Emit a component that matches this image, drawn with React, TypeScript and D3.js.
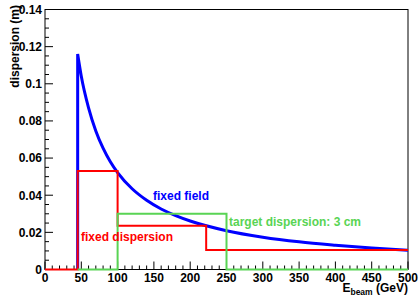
import React from "react";
import * as d3 from "d3";

const W = 418;
const H = 296;

// fixed field curve
const fieldE = [45, 50, 60, 70, 80, 90, 100, 120, 140, 160, 180, 200, 250, 300, 350, 400, 450, 500];
const fieldD = [0.116, 0.104, 0.087, 0.0746, 0.0653, 0.058, 0.0522, 0.0435, 0.0373, 0.0326, 0.029, 0.0261, 0.0209, 0.0174, 0.0149, 0.0131, 0.0116, 0.0104];

// fixed dispersion histogram
const redEdges = [0, 45, 100, 222, 500];
const redValues = [0, 0.053, 0.0236, 0.0105];

// target dispersion histogram
const greenEdges = [45, 100, 250, 500];
const greenValues = [0, 0.03, 0];

const xTicks = [0, 50, 100, 150, 200, 250, 300, 350, 400, 450, 500];
const yTicks = [0, 0.02, 0.04, 0.06, 0.08, 0.1, 0.12, 0.14];
const yTickLabels = ["0", "0.02", "0.04", "0.06", "0.08", "0.1", "0.12", "0.14"];

const FONT = "'Liberation Sans', Arial, Helvetica, sans-serif";

export default function App() {
  const x = d3.scaleLinear().domain([0, 500]).range([45, 408]);
  const y = d3.scaleLinear().domain([0, 0.14]).range([269.5, 9.5]);

  const stepPath = (edges: number[], vals: number[]) => {
    let p = `M${x(edges[0])},${y(vals[0])}`;
    for (let i = 0; i < vals.length; i++) {
      p += `L${x(edges[i])},${y(vals[i])}L${x(edges[i + 1])},${y(vals[i])}`;
    }
    return p;
  };

  const line = d3
    .line<number>()
    .x((_, i) => x(fieldE[i]))
    .y((d) => y(d))
    .curve(d3.curveMonotoneX);
  const bluePath = `M${x(fieldE[0])},${y(0)}L${x(fieldE[0])},${y(fieldD[0])}` + (line(fieldD) || "").replace(/^M/, "L");

  const xMinor = d3.range(0, 501, 10).filter((v) => v % 50 !== 0);
  const yMinor = d3.range(0, 0.1401, 0.005).filter((v) => Math.abs(v / 0.02 - Math.round(v / 0.02)) > 1e-6);

  return (
    <svg width={W} height={H} style={{ position: "absolute", left: 0, top: 0, display: "block", background: "#fff" }} fontFamily={FONT}>
      <rect x={0} y={0} width={W} height={H} fill="#fff" />
      {/* frame */}
      <rect x={x(0)} y={y(0.14)} width={x(500) - x(0)} height={y(0) - y(0.14)} fill="none" stroke="#000" strokeWidth={1} />
      {/* x ticks */}
      {xTicks.map((t) => (
        <line key={"xt" + t} x1={x(t)} x2={x(t)} y1={y(0)} y2={y(0) - 8} stroke="#000" />
      ))}
      {xMinor.map((t) => (
        <line key={"xm" + t} x1={x(t)} x2={x(t)} y1={y(0)} y2={y(0) - 4} stroke="#000" />
      ))}
      {yTicks.map((t) => (
        <line key={"yt" + t} x1={x(0)} x2={x(0) + 8} y1={y(t)} y2={y(t)} stroke="#000" />
      ))}
      {yMinor.map((t) => (
        <line key={"ym" + t} x1={x(0)} x2={x(0) + 4} y1={y(t)} y2={y(t)} stroke="#000" />
      ))}
      {/* tick labels */}
      {xTicks.map((t) => (
        <text key={"xl" + t} x={x(t)} y={282} textAnchor="middle" fontSize={12} fontWeight="bold">
          {t}
        </text>
      ))}
      {yTicks.map((t, i) => (
        <text key={"yl" + t} x={42} y={y(t) + 4.3} textAnchor="end" fontSize={12} fontWeight="bold">
          {yTickLabels[i]}
        </text>
      ))}
      {/* axis titles */}
      <text transform="translate(19,5) rotate(-90)" textAnchor="end" fontSize={12} fontWeight="bold">
        dispersion (m)
      </text>
      <text x={408} y={292} textAnchor="end" fontSize={12} fontWeight="bold">
        E
        <tspan fontSize={8.5} dy={3}>beam</tspan>
        <tspan dy={-3}> (GeV)</tspan>
      </text>
      {/* curves */}
      <path d={bluePath} fill="none" stroke="#0000ff" strokeWidth={3} />
      <path d={stepPath(redEdges, redValues)} fill="none" stroke="#ff0000" strokeWidth={2} />
      <path d={stepPath(greenEdges, greenValues)} fill="none" stroke="#59d454" strokeWidth={2} />
      {/* labels */}
      <text x={153} y={200} fontSize={12} fontWeight="bold" fill="#0000ff">fixed field</text>
      <text x={81} y={241} fontSize={12} fontWeight="bold" fill="#ff0000">fixed dispersion</text>
      <text x={229} y={226} fontSize={12} fontWeight="bold" fill="#59d454">target dispersion: 3 cm</text>
    </svg>
  );
}
